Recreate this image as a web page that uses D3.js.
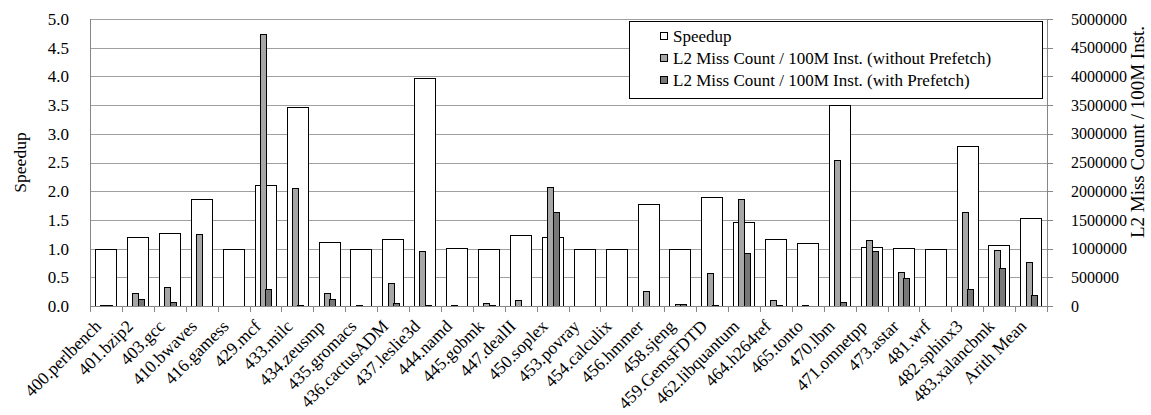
<!DOCTYPE html>
<html>
<head>
<meta charset="utf-8">
<script src="https://cdn.jsdelivr.net/npm/d3@7"></script>
<style>
  html, body { margin: 0; padding: 0; background: #fff; }
  svg { display: block; font-family: "Liberation Serif", "Times New Roman", serif; }
</style>
</head>
<body>
<div id="chart"></div>
<script>
// benchmarks
const categories = [
    "400.perlbench", "401.bzip2", "403.gcc", "410.bwaves", "416.gamess", "429.mcf",
    "433.milc", "434.zeusmp", "435.gromacs", "436.cactusADM", "437.leslie3d", "444.namd",
    "445.gobmk", "447.dealII", "450.soplex", "453.povray", "454.calculix", "456.hmmer",
    "458.sjeng", "459.GemsFDTD", "462.libquantum", "464.h264ref", "465.tonto", "470.lbm",
    "471.omnetpp", "473.astar", "481.wrf", "482.sphinx3", "483.xalancbmk", "Arith Mean"
];

// speedup (left axis)
const speedup = [
    1.00, 1.20, 1.28, 1.87, 1.00, 2.11,
    3.46, 1.11, 1.00, 1.17, 3.97, 1.01,
    1.00, 1.23, 1.20, 0.99, 1.00, 1.77,
    1.00, 1.90, 1.46, 1.17, 1.10, 3.51,
    1.02, 1.01, 1.00, 2.79, 1.06, 1.54
];

// L2 misses / 100M inst. (right axis)
const missNoPrefetch = [
    15000, 227000, 335000, 1250000, 5000, 4730000,
    2060000, 227000, 20000, 395000, 960000, 10000,
    47000, 105000, 2070000, 3000, 3000, 260000,
    40000, 570000, 1870000, 100000, 10000, 2550000,
    1150000, 587000, 3000, 1640000, 970000, 770000
];
const missPrefetch = [
    10000, 116000, 70000, 5000, 3000, 295000,
    10000, 125000, 5000, 47000, 10000, 3000,
    23000, 5000, 1630000, 3000, 3000, 5000,
    40000, 10000, 920000, 10000, 3000, 70000,
    960000, 490000, 3000, 290000, 660000, 200000
];

const leftTicks = [0, 0.5, 1, 1.5, 2, 2.5, 3, 3.5, 4, 4.5, 5];
const rightTicks = [0, 500000, 1000000, 1500000, 2000000, 2500000, 3000000, 3500000, 4000000, 4500000, 5000000];

const legendItems = [
    { label: "Speedup", color: "#ffffff" },
    { label: "L2 Miss Count / 100M Inst. (without Prefetch)", color: "#a6a6a6" },
    { label: "L2 Miss Count / 100M Inst. (with Prefetch)", color: "#777777" }
];

const W = 1151, H = 415;
const m = { left: 90, right: 1047, top: 19, bottom: 306 };

const svg = d3.select("#chart").append("svg")
    .attr("width", W).attr("height", H);

const x = d3.scaleBand().domain(categories).range([m.left, m.right]);
const yL = d3.scaleLinear().domain([0, 5]).range([m.bottom, m.top]);
const yR = d3.scaleLinear().domain([0, 5000000]).range([m.bottom, m.top]);
const bw = x.bandwidth();

// --- grille ---
svg.append("g")
    .selectAll("line").data(leftTicks).join("line")
    .attr("x1", m.left).attr("x2", m.right)
    .attr("y1", d => Math.round(yL(d)) + 0.5).attr("y2", d => Math.round(yL(d)) + 0.5)
    .attr("stroke", "#a0a0a0").attr("stroke-width", 1);

// --- barres speedup ---
svg.append("g")
    .selectAll("rect").data(categories).join("rect")
    .attr("x", d => Math.round(x(d) + bw * 0.165) + 0.5)
    .attr("width", Math.round(bw * 0.67))
    .attr("y", (d, i) => Math.round(yL(speedup[i])) + 0.5)
    .attr("height", (d, i) => Math.round(yL(0)) - Math.round(yL(speedup[i])))
    .attr("fill", "#fff").attr("stroke", "#000").attr("stroke-width", 1);

// --- barres miss ---
const sub = d3.scaleBand().domain(["no", "pf"]).range([-5.5, 5.5]);
const missSeries = [
    { key: "no", values: missNoPrefetch, color: legendItems[1].color },
    { key: "pf", values: missPrefetch, color: legendItems[2].color }
];
missSeries.forEach(s => {
    svg.append("g")
        .selectAll("rect").data(categories).join("rect")
        .attr("x", d => Math.round(x(d) + bw / 2 + sub(s.key)) + 0.5)
        .attr("width", Math.round(sub.bandwidth()))
        .attr("y", (d, i) => Math.round(yR(s.values[i])) + 0.5)
        .attr("height", (d, i) => Math.max(0, Math.round(yR(0)) - Math.round(yR(s.values[i]))))
        .attr("fill", s.color).attr("stroke", "#000").attr("stroke-width", 1);
});

// --- axes ---
const axisCol = "#868686";
svg.append("line")
    .attr("x1", m.left + 0.5).attr("x2", m.left + 0.5).attr("y1", m.top).attr("y2", m.bottom)
    .attr("stroke", axisCol);
svg.append("line")
    .attr("x1", m.right + 0.5).attr("x2", m.right + 0.5).attr("y1", m.top).attr("y2", m.bottom)
    .attr("stroke", axisCol);
svg.append("line")
    .attr("x1", m.left).attr("x2", m.right).attr("y1", m.bottom + 0.5).attr("y2", m.bottom + 0.5)
    .attr("stroke", axisCol);

// ticks bas (entre catégories)
svg.append("g")
    .selectAll("line").data(categories.concat([null])).join("line")
    .attr("x1", (d, i) => Math.round(m.left + i * x.step()) + 0.5)
    .attr("x2", (d, i) => Math.round(m.left + i * x.step()) + 0.5)
    .attr("y1", m.bottom).attr("y2", m.bottom + 6)
    .attr("stroke", axisCol);

// ticks droite
svg.append("g")
    .selectAll("line").data(rightTicks).join("line")
    .attr("x1", m.right).attr("x2", m.right + 6)
    .attr("y1", d => Math.round(yR(d)) + 0.5).attr("y2", d => Math.round(yR(d)) + 0.5)
    .attr("stroke", axisCol);

const fs = 17;
// labels gauche
svg.append("g")
    .selectAll("text").data(leftTicks).join("text")
    .attr("x", 69).attr("y", d => yL(d)).attr("dy", "0.35em")
    .attr("text-anchor", "end").attr("font-size", fs)
    .text(d => d.toFixed(1));

// labels droite
svg.append("g")
    .selectAll("text").data(rightTicks).join("text")
    .attr("x", 1071).attr("y", d => yR(d)).attr("dy", "0.35em")
    .attr("font-size", 16)
    .text(d => d3.format("d")(d));

// labels catégories
svg.append("g")
    .selectAll("text").data(categories).join("text")
    .attr("transform", d => `translate(${x(d) + bw / 2 - 8},${m.bottom + 17}) rotate(-45)`)
    .attr("text-anchor", "end").attr("dy", "0.35em")
    .attr("font-size", 17.5)
    .text(d => d);

// titres axes
svg.append("text")
    .attr("transform", `translate(20,${(m.top + m.bottom) / 2}) rotate(-90)`)
    .attr("text-anchor", "middle").attr("dy", "0.35em")
    .attr("font-size", 17.5)
    .text("Speedup");
svg.append("text")
    .attr("transform", `translate(1137,132) rotate(-90)`)
    .attr("text-anchor", "middle").attr("dy", "0.35em")
    .attr("font-size", 19)
    .text("L2 Miss Count / 100M Inst.");

// --- légende ---
const lg = svg.append("g");
lg.append("rect")
    .attr("x", 629.5).attr("y", 21.5).attr("width", 413).attr("height", 77)
    .attr("fill", "#fff").attr("stroke", "#000");
const rowY = [36, 58, 80];
legendItems.forEach((it, i) => {
    lg.append("rect")
        .attr("x", 660.5).attr("y", rowY[i] - 3.5).attr("width", 7).attr("height", 7)
        .attr("fill", it.color).attr("stroke", "#000");
    lg.append("text")
        .attr("x", 673).attr("y", rowY[i]).attr("dy", "0.35em")
        .attr("font-size", 17)
        .text(it.label);
});
</script>
</body>
</html>
